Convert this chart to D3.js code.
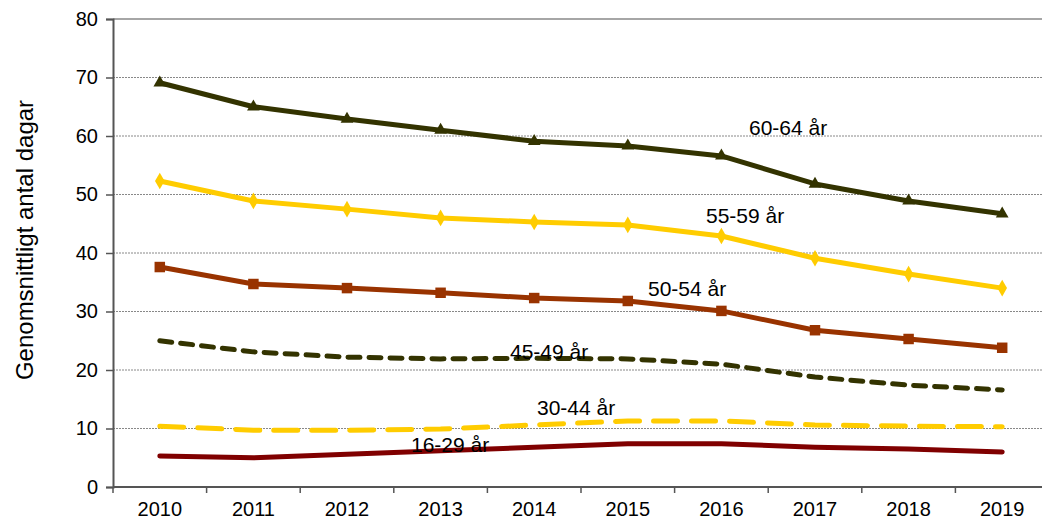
<!DOCTYPE html>
<html>
<head>
<meta charset="utf-8">
<script src="https://cdn.jsdelivr.net/npm/d3@7"></script>
<style>
  body { margin: 0; background: #fff; }
  text { font-family: "Liberation Sans", Arial, sans-serif; fill: #000; }
</style>
</head>
<body>
<div class="chart"></div>
<script>
var years = ["2010", "2011", "2012", "2013", "2014", "2015", "2016", "2017", "2018", "2019"];
var yTicks = [0, 10, 20, 30, 40, 50, 60, 70, 80];

var age6064 = [69.1, 65.0, 62.9, 61.0, 59.1, 58.3, 56.6, 51.8, 48.9, 46.7];
var age5559 = [52.3, 48.9, 47.5, 46.0, 45.3, 44.8, 42.9, 39.1, 36.4, 34.0];
var age5054 = [37.6, 34.7, 34.0, 33.2, 32.3, 31.8, 30.1, 26.8, 25.3, 23.8];
var age4549 = [25.0, 23.1, 22.2, 21.9, 22.0, 21.9, 21.0, 18.8, 17.4, 16.6];
var age3044 = [10.4, 9.7, 9.7, 9.9, 10.6, 11.3, 11.3, 10.6, 10.4, 10.3];
var age1629 = [5.3, 5.0, 5.6, 6.2, 6.8, 7.4, 7.4, 6.8, 6.5, 6.0];

var svgWidth = 1042;
var svgHeight = 525;
var margin = {top: 19, right: -7, bottom: 38, left: 113};
var width = svgWidth - margin.left - margin.right;
var height = svgHeight - margin.top - margin.bottom;

var svg = d3.select(".chart")
  .append("svg")
  .attr("width", svgWidth)
  .attr("height", svgHeight);

var chartGroup = svg.append("g")
  .attr("transform", `translate(${margin.left}, ${margin.top})`);

var xScale = d3.scaleBand()
  .domain(years)
  .range([0, width]);

var yScale = d3.scaleLinear()
  .domain([0, 80])
  .range([height, 0]);

// gridlines
chartGroup.selectAll(".grid")
  .data(yTicks.filter(d => d > 0 && d < 80))
  .enter()
  .append("line")
  .attr("x1", 0)
  .attr("x2", width)
  .attr("y1", d => yScale(d))
  .attr("y2", d => yScale(d))
  .attr("stroke", "#888")
  .attr("stroke-width", 1)
  .attr("stroke-dasharray", "2,1");

// top border
chartGroup.append("line")
  .attr("x1", 0).attr("x2", width)
  .attr("y1", yScale(80)).attr("y2", yScale(80))
  .attr("stroke", "#888")
  .attr("stroke-width", 1.5);

// y axis
var leftAxis = d3.axisLeft(yScale).tickValues(yTicks).tickSize(7).tickPadding(8);
var yAxis = chartGroup.append("g").call(leftAxis);
yAxis.select(".domain").attr("stroke", "#555").attr("stroke-width", 2);
yAxis.selectAll(".tick line").attr("stroke", "#555").attr("stroke-width", 1.5);
yAxis.selectAll("text").style("font-size", "20px").attr("font-family", null);

// x axis with ticks at category borders
var xAxis = chartGroup.append("g")
  .attr("transform", `translate(0, ${height})`);
xAxis.append("line")
  .attr("x1", 0).attr("x2", width)
  .attr("stroke", "#555").attr("stroke-width", 2);
xAxis.selectAll(".xtick")
  .data(years)
  .enter()
  .append("line")
  .attr("x1", d => xScale(d))
  .attr("x2", d => xScale(d))
  .attr("y1", 0).attr("y2", 6)
  .attr("stroke", "#555").attr("stroke-width", 1.5);
xAxis.selectAll(".xlabel")
  .data(years)
  .enter()
  .append("text")
  .attr("x", d => xScale(d) + xScale.bandwidth() / 2)
  .attr("y", 29)
  .attr("text-anchor", "middle")
  .style("font-size", "20px")
  .text(d => d);

// y axis title
chartGroup.append("text")
  .attr("transform", "rotate(-90)")
  .attr("x", -221)
  .attr("y", 33 - margin.left)
  .attr("text-anchor", "middle")
  .style("font-size", "24px")
  .text("Genomsnittligt antal dagar");

var series = [
  {name: "16-29 år", values: age1629, color: "#800000", dash: null, marker: null, lx: 411, ly: 452},
  {name: "30-44 år", values: age3044, color: "#FFCC00", dash: "24,14", marker: null, lx: 537, ly: 415},
  {name: "45-49 år", values: age4549, color: "#333300", dash: "12,9", marker: null, lx: 510, ly: 359},
  {name: "50-54 år", values: age5054, color: "#993300", dash: null, marker: "square", lx: 648, ly: 296},
  {name: "55-59 år", values: age5559, color: "#FFCC00", dash: null, marker: "diamond", lx: 706, ly: 223},
  {name: "60-64 år", values: age6064, color: "#333300", dash: null, marker: "triangle", lx: 749, ly: 135}
];

var line = d3.line()
  .x((d, i) => xScale(years[i]) + xScale.bandwidth() / 2)
  .y(d => yScale(d));

var symbols = {
  square: d3.symbol().type(d3.symbolSquare).size(110),
  diamond: d3.symbol().type(d3.symbolDiamond).size(80),
  triangle: d3.symbol().type(d3.symbolTriangle).size(70)
};

series.forEach(function(s) {
  chartGroup.append("path")
    .datum(s.values)
    .attr("d", line)
    .attr("fill", "none")
    .attr("stroke", s.color)
    .attr("stroke-width", 5)
    .attr("stroke-linecap", "round")
    .attr("stroke-linejoin", "round")
    .attr("stroke-dasharray", s.dash);

  if (s.marker) {
    chartGroup.selectAll(null)
      .data(s.values)
      .enter()
      .append("path")
      .attr("d", symbols[s.marker])
      .attr("transform", (d, i) => `translate(${xScale(years[i]) + xScale.bandwidth() / 2}, ${yScale(d)})`)
      .attr("fill", s.color);
  }
});

// series labels
series.forEach(function(s) {
  svg.append("text")
    .attr("x", s.lx)
    .attr("y", s.ly)
    .style("font-size", "21px")
    .text(s.name);
});
</script>
</body>
</html>
